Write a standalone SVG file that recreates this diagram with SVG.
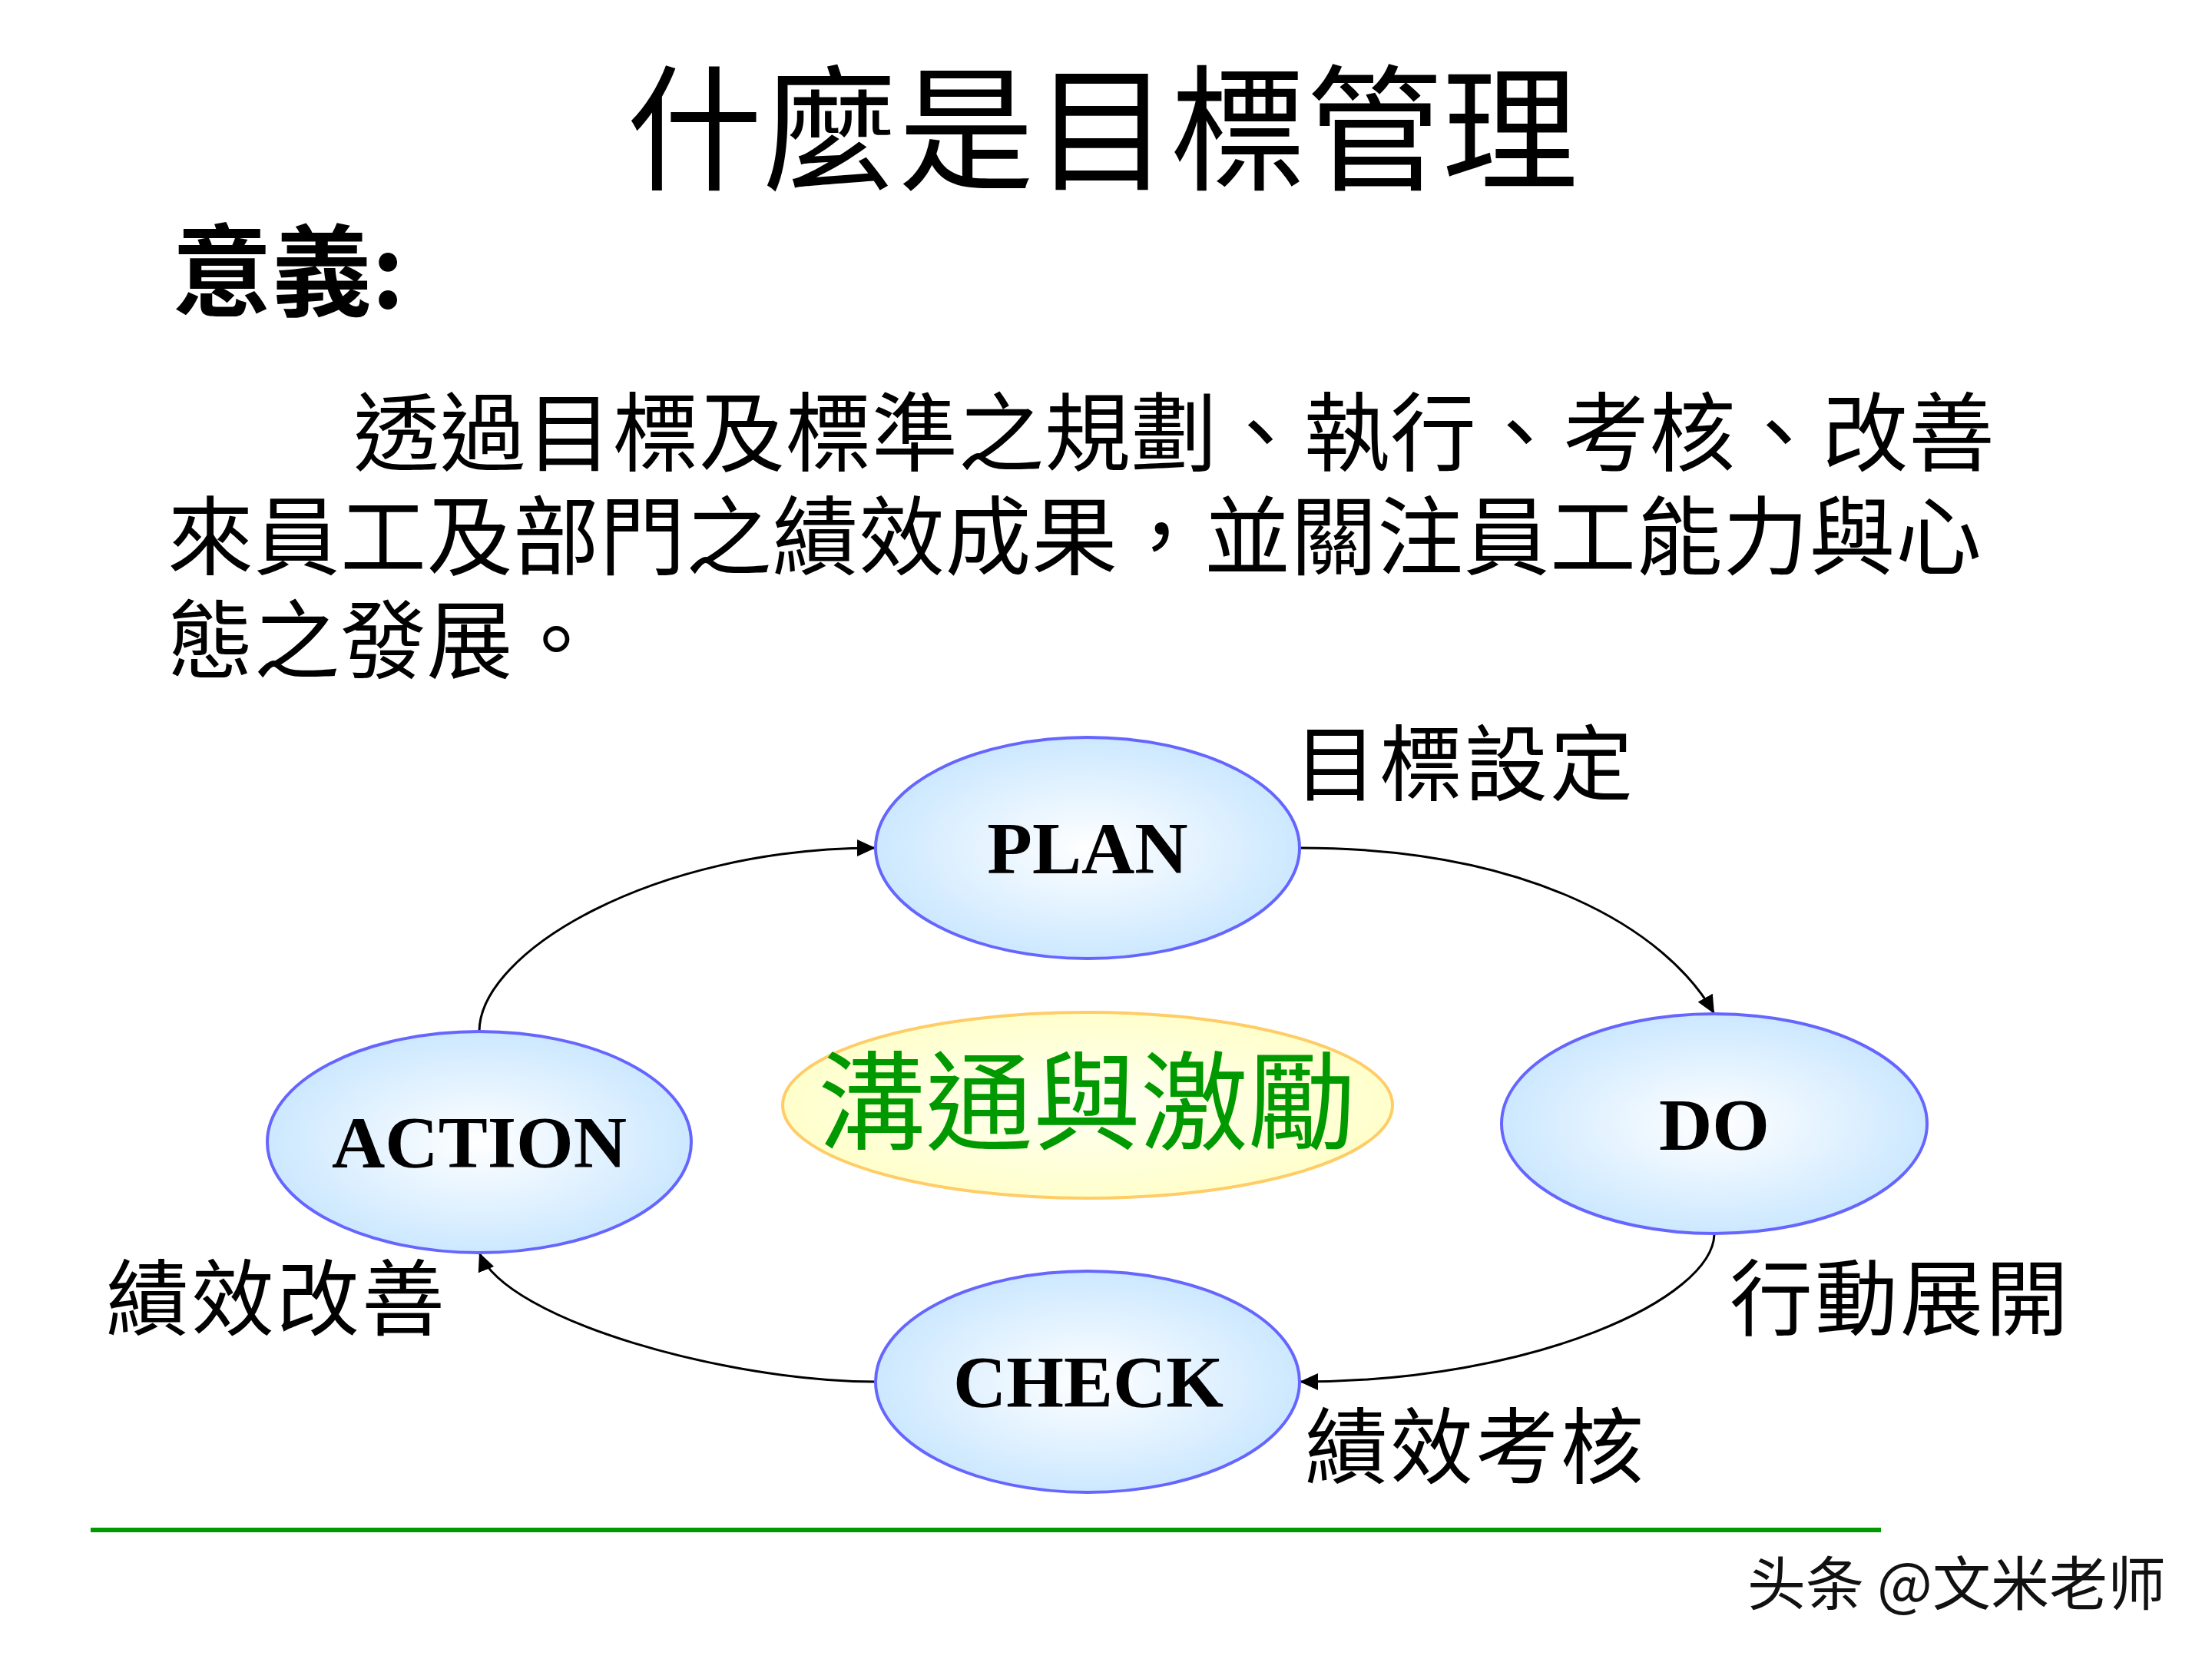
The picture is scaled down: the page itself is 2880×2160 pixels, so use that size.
<svg xmlns="http://www.w3.org/2000/svg" width="2880" height="2160" viewBox="0 0 2880 2160">
<style>
.cjk{font-family:"Noto Sans CJK TC","Noto Sans CJK SC",sans-serif;fill:#000}
.para{font-size:112px;letter-spacing:0.5px}
.en{font-family:"Liberation Serif","Times New Roman",serif;font-weight:bold;font-size:96px;fill:#000;text-anchor:middle}
.lbl{font-size:108px;letter-spacing:3px}
.node{fill:url(#blueGrad);stroke:#6666FF;stroke-width:4}
.conn{fill:none;stroke:#000;stroke-width:3;marker-end:url(#arrow)}
</style>
<defs>
<radialGradient id="blueGrad" cx="50%" cy="50%" r="50%">
<stop offset="0" stop-color="#FFFFFF"/>
<stop offset="1" stop-color="#CCE8FF"/>
</radialGradient>
<radialGradient id="yellowGrad" cx="50%" cy="50%" r="50%">
<stop offset="0" stop-color="#FFFFF4"/>
<stop offset="1" stop-color="#FFFFCC"/>
</radialGradient>
<marker id="arrow" markerUnits="userSpaceOnUse" markerWidth="26" markerHeight="24" refX="24" refY="11" orient="auto">
<path d="M0,0 L24,11 L0,22 Z" fill="#000"/>
</marker>
</defs>
<rect width="2880" height="2160" fill="#FFFFFF"/>

<g id="title">
<text class="cjk" x="1435" y="234" font-size="177" text-anchor="middle">什麼是目標管理</text>
</g>

<g id="meaning">
<text class="cjk" x="224" y="401" font-size="130" font-weight="bold">意義:</text>
<text class="cjk para" x="460" y="605">透過目標及標準之規劃、執行、考核、改善</text>
<text class="cjk para" x="218" y="740">來員工及部門之績效成果，並關注員工能力與心</text>
<text class="cjk para" x="218" y="875">態之發展。</text>
</g>

<g id="connectors">
<path class="conn" d="M1692,1104 C1992,1104 2170,1210 2232,1320"/>
<path class="conn" d="M2232,1607 C2230,1690 2000,1799 1692,1799"/>
<path class="conn" d="M1140,1799 C950,1799 660,1720 624,1631"/>
<path class="conn" d="M624,1343 C624,1240 850,1104 1140,1104"/>
</g>

<g id="node-plan">
<ellipse class="node" cx="1416" cy="1104" rx="276" ry="144"/>
<text class="en" x="1416" y="1137">PLAN</text>
</g>
<g id="node-do">
<ellipse class="node" cx="2232" cy="1463" rx="277" ry="143"/>
<text class="en" x="2232" y="1497">DO</text>
</g>
<g id="node-check">
<ellipse class="node" cx="1416" cy="1799" rx="276" ry="144"/>
<text class="en" x="1417" y="1832">CHECK</text>
</g>
<g id="node-action">
<ellipse class="node" cx="624" cy="1487" rx="276" ry="144"/>
<text class="en" x="624" y="1520">ACTION</text>
</g>
<g id="node-center">
<ellipse cx="1416" cy="1439" rx="397" ry="121" fill="url(#yellowGrad)" stroke="#FFCC66" stroke-width="4"/>
<text class="cjk" x="1415" y="1486" font-size="140" text-anchor="middle" style="fill:#009900">溝通與激勵</text>
</g>

<g id="labels">
<text class="cjk lbl" x="1685" y="1034">目標設定</text>
<text class="cjk lbl" x="2252" y="1730">行動展開</text>
<text class="cjk lbl" x="138" y="1730">績效改善</text>
<text class="cjk lbl" x="1699" y="1923">績效考核</text>
</g>

<g id="footer">
<line x1="118" y1="1992" x2="2449" y2="1992" stroke="#009900" stroke-width="6"/>
<text x="2820" y="2090" font-family="Noto Sans CJK SC, sans-serif" font-size="76" text-anchor="end" fill="#111" stroke="#FFFFFF" stroke-width="2" paint-order="stroke">头条 @文米老师</text>
</g>
</svg>
